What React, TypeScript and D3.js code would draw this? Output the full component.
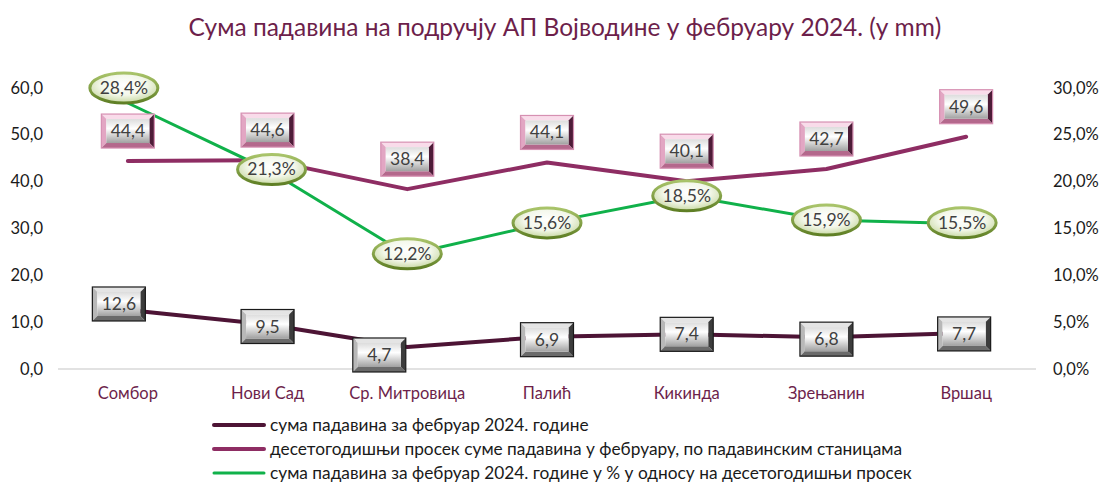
import React from "react";
import * as d3 from "d3";

const categories = ["Сомбор", "Нови Сад", "Ср. Митровица", "Палић", "Кикинда", "Зрењанин", "Вршац"];
const sum2024 = [12.6, 9.5, 4.7, 6.9, 7.4, 6.8, 7.7];
const avg10 = [44.4, 44.6, 38.4, 44.1, 40.1, 42.7, 49.6];
const pct = [28.4, 21.3, 12.2, 15.6, 18.5, 15.9, 15.5];
const leftTicks = [0, 10, 20, 30, 40, 50, 60];
const rightTicks = [0, 5, 10, 15, 20, 25, 30];
const legendLabels = [
  "сума падавина за фебруар 2024. године",
  "десетогодишњи просек суме падавина у фебруару, по падавинским станицама",
  "сума падавина за фебруар 2024. године у % у односу на десетогодишњи просек",
];
const title = "Сума падавина на подручју АП Војводине у фебруару 2024. (у mm)";

// layout nudges for manually placed data labels (pixels)
const darkLabelDx = [-9, 0, -28, 0, 0, 0, -2];
const darkLabelDy = [-6, 2, 8, 3, 0, 2, 1];
const greenLabelDx = [-4, 4, 0, 0, 0, 0, -4];
const greenLabelDy = [-15, 0, -1, 0, 0, 0, -1];

const W = 1102, H = 486;
const plotL = 58, plotR = 1036, plotT = 88, plotB = 369;
const C_DARK = "#4d1435";
const C_PURP = "#8e2d63";
const C_GREEN = "#10b14a";
const FONT = "Lato, 'Open Sans', sans-serif";

const fmt = (v: number) => v.toFixed(1).replace(".", ",");

function BevelBox({ x, y, text, outline, top, left, right, bottom }: any) {
  const w = 53, h = 34, b = 5;
  const x0 = x - w / 2, y0 = y - h / 2, x1 = x + w / 2, y1 = y + h / 2;
  return (
    <g>
      <polygon points={`${x0},${y0} ${x1},${y0} ${x1 - b},${y0 + b} ${x0 + b},${y0 + b}`} fill={top} />
      <polygon points={`${x0},${y0} ${x0 + b},${y0 + b} ${x0 + b},${y1 - b} ${x0},${y1}`} fill={left} />
      <polygon points={`${x1},${y0} ${x1},${y1} ${x1 - b},${y1 - b} ${x1 - b},${y0 + b}`} fill={right} />
      <polygon points={`${x0},${y1} ${x1},${y1} ${x1 - b},${y1 - b} ${x0 + b},${y1 - b}`} fill={bottom} />
      <rect x={x0 + b} y={y0 + b} width={w - 2 * b} height={h - 2 * b} fill="url(#silver)" />
      <rect x={x0} y={y0} width={w} height={h} fill="none" stroke={outline} strokeWidth={1.2} />
      <text x={x} y={y + 6} textAnchor="middle" fontSize={17.5} fill="#404040" fontFamily={FONT}>{text}</text>
    </g>
  );
}

function EllipseLabel({ x, y, text }: any) {
  return (
    <g>
      <ellipse cx={x} cy={y} rx={34} ry={15} fill="url(#greenFace)" stroke="url(#greenRim)" strokeWidth={3} />
      <text x={x} y={y + 6} textAnchor="middle" fontSize={17.5} fill="#404040" fontFamily={FONT}>{text}</text>
    </g>
  );
}

export default function App() {
  const x = d3.scaleBand<string>().domain(categories).range([plotL, plotR]);
  const cx = (c: string) => (x(c) as number) + x.bandwidth() / 2;
  const yL = d3.scaleLinear().domain([0, 60]).range([plotB, plotT]);
  const yR = d3.scaleLinear().domain([0, 30]).range([plotB, plotT]);

  const lineL = d3.line<number>().x((_, i) => cx(categories[i])).y((d) => yL(d));
  const lineR = d3.line<number>().x((_, i) => cx(categories[i])).y((d) => yR(d));

  return (
    <svg width={W} height={H} style={{ position: "absolute", left: 0, top: 0, background: "#fff" }}>
      <defs>
        <linearGradient id="silver" x1="0" y1="0" x2="0" y2="1">
          <stop offset="0" stopColor="#dcdcdc" />
          <stop offset="0.4" stopColor="#ffffff" />
          <stop offset="1" stopColor="#a0a0a0" />
        </linearGradient>
        <radialGradient id="greenFace" cx="0.5" cy="0.4" r="0.62">
          <stop offset="0" stopColor="#ffffff" />
          <stop offset="0.55" stopColor="#f3f7ea" />
          <stop offset="1" stopColor="#c4d69c" />
        </radialGradient>
        <linearGradient id="greenRim" x1="0" y1="0" x2="0" y2="1">
          <stop offset="0" stopColor="#a9c46a" />
          <stop offset="1" stopColor="#5f7f25" />
        </linearGradient>
      </defs>
      <text x={565} y={36} textAnchor="middle" fontSize={24.5} fill="#6d1f4b" fontFamily={FONT}>{title}</text>

      {leftTicks.map((t) => (
        <text key={"l" + t} x={43} y={yL(t) + 5.5} textAnchor="end" fontSize={16.5} fill="#1a1a1a" fontFamily={FONT}>{fmt(t)}</text>
      ))}
      {rightTicks.map((t) => (
        <text key={"r" + t} x={1053} y={yR(t) + 5.5} textAnchor="start" fontSize={16.5} fill="#1a1a1a" fontFamily={FONT}>{fmt(t) + "%"}</text>
      ))}
      <line x1={plotL} x2={plotR} y1={plotB} y2={plotB} stroke="#d9d9d9" strokeWidth={1.5} />
      {categories.map((c) => (
        <text key={c} x={cx(c)} y={399} textAnchor="middle" fontSize={16.5} fill="#6d1f4b" fontFamily={FONT}>{c}</text>
      ))}

      <path d={lineL(avg10) as string} fill="none" stroke={C_PURP} strokeWidth={4} strokeLinecap="round" strokeLinejoin="round" />
      <path d={lineL(sum2024) as string} fill="none" stroke={C_DARK} strokeWidth={4} strokeLinecap="round" strokeLinejoin="round" />
      <path d={lineR(pct) as string} fill="none" stroke={C_GREEN} strokeWidth={3} strokeLinecap="round" strokeLinejoin="round" />

      {avg10.map((v, i) => (
        <BevelBox key={"a" + i} x={cx(categories[i])} y={yL(v) - 30} text={fmt(v)}
          outline="#d690b2" top="#f9dcea" left="#e2a6c3" right="#4e1c38" bottom="#b4688c" />
      ))}
      {sum2024.map((v, i) => (
        <BevelBox key={"s" + i} x={cx(categories[i]) + darkLabelDx[i]} y={yL(v) + darkLabelDy[i]} text={fmt(v)}
          outline="#1a1a1a" top="#e4e4e4" left="#b8b8b8" right="#3c3c3c" bottom="#6a6a6a" />
      ))}
      {pct.map((v, i) => (
        <EllipseLabel key={"p" + i} x={cx(categories[i]) + greenLabelDx[i]} y={yR(v) + greenLabelDy[i]} text={fmt(v) + "%"} />
      ))}

      {legendLabels.map((l, i) => {
        const ly = 425 + i * 24;
        const col = [C_DARK, C_PURP, C_GREEN][i];
        return (
          <g key={l}>
            <line x1={214} x2={264} y1={ly} y2={ly} stroke={col} strokeWidth={i === 2 ? 3 : 4} strokeLinecap="round" />
            <text x={270} y={ly + 5.5} fontSize={17.3} fill="#1a1a1a" fontFamily={FONT}>{l}</text>
          </g>
        );
      })}
    </svg>
  );
}
